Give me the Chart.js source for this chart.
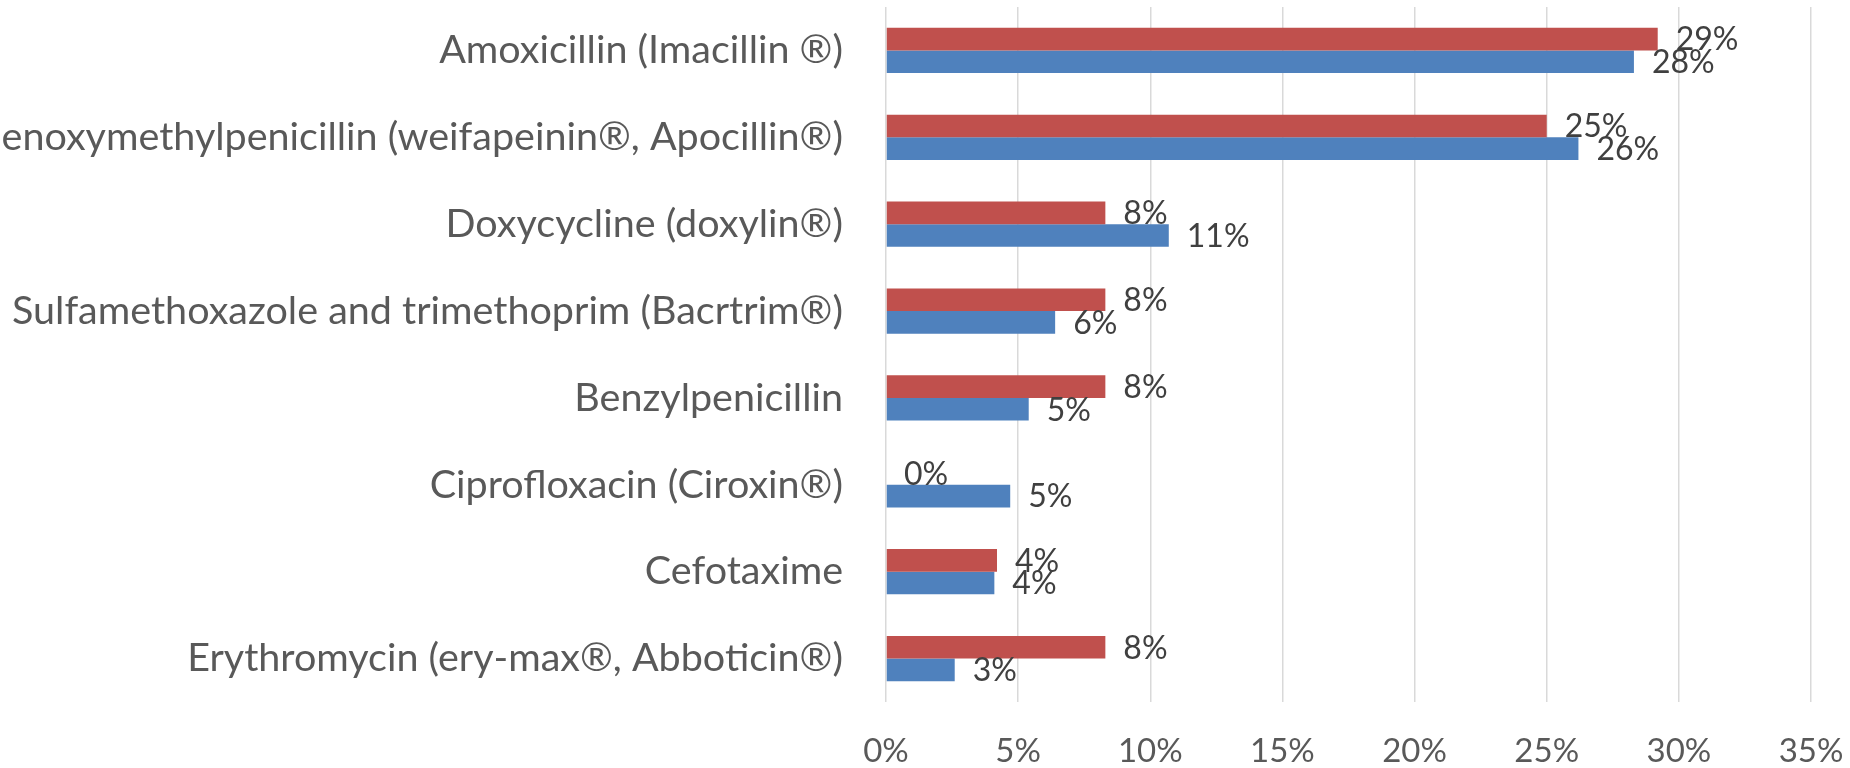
<!DOCTYPE html>
<html><head><meta charset="utf-8">
<script src="https://cdn.jsdelivr.net/npm/chart.js@4.4.0/dist/chart.umd.min.js"></script>
<style>html,body{margin:0;padding:0;background:#fff;overflow:hidden}#wrap{width:1850px;height:768px;position:relative}</style>
</head><body><div id="wrap"><canvas id="c" width="1850" height="768"></canvas></div>
<script>
const categories = [
  "Amoxicillin (Imacillin ®)",
  "Phenoxymethylpenicillin (weifapeinin®, Apocillin®)",
  "Doxycycline (doxylin®)",
  "Sulfamethoxazole and trimethoprim (Bacrtrim®)",
  "Benzylpenicillin",
  "Ciprofloxacin (Ciroxin®)",
  "Cefotaxime",
  "Erythromycin (ery-max®, Abboticin®)"
];
const seriesRed = [29.2, 25.0, 8.3, 8.3, 8.3, 0, 4.2, 8.3];
const seriesBlue = [28.3, 26.2, 10.7, 6.4, 5.4, 4.7, 4.1, 2.6];
const xTickValues = [0, 5, 10, 15, 20, 25, 30, 35];

const valueLabels = {
  id: 'valueLabels',
  afterDatasetsDraw(chart) {
    const ctx = chart.ctx;
    ctx.save();
    ctx.font = '32px Lato';
    ctx.fillStyle = '#404040';
    ctx.textAlign = 'left';
    ctx.textBaseline = 'middle';
    chart.data.datasets.forEach((ds, i) => {
      const meta = chart.getDatasetMeta(i);
      meta.data.forEach((bar, j) => {
        ctx.fillText(Math.round(ds.data[j]) + '%', bar.x + 18, bar.y + 1);
      });
    });
    ctx.restore();
  }
};

new Chart(document.getElementById('c'), {
  type: 'bar',
  data: {
    labels: categories,
    datasets: [
      { label: 'Series 2', data: seriesRed, backgroundColor: '#C0504D', borderWidth: 0 },
      { label: 'Series 1', data: seriesBlue, backgroundColor: '#4F81BD', borderWidth: 0 }
    ]
  },
  options: {
    indexAxis: 'y',
    responsive: false,
    devicePixelRatio: 1,
    animation: false,
    layout: { padding: { top: 7, right: 39, bottom: 0, left: 0 } },
    datasets: { bar: { categoryPercentage: 0.52, barPercentage: 1.0 } },
    plugins: { legend: { display: false }, tooltip: { enabled: false } },
    scales: {
      x: {
        min: 0, max: 35,
        afterBuildTicks(scale) { scale.ticks = xTickValues.map(v => ({ value: v })); },
        ticks: { callback: v => v + '%', font: { family: 'Lato', size: 33, lineHeight: 1 }, color: '#595959', padding: 33, maxRotation: 0 },
        grid: { color: '#D9D9D9', lineWidth: 1.5, drawTicks: false },
        border: { display: false },
        afterFit(scale) { scale.height = 66; scale.paddingLeft = 0; scale.paddingRight = 0; }
      },
      y: {
        grid: { display: false, drawTicks: false },
        border: { display: false },
        ticks: { font: { family: 'Lato', size: 39.5 }, color: '#595959', padding: 43, autoSkip: false },
        afterFit(scale) { scale.width = 886; scale.paddingTop = 0; scale.paddingBottom = 0; }
      }
    }
  },
  plugins: [valueLabels]
});
</script>
</body></html>
